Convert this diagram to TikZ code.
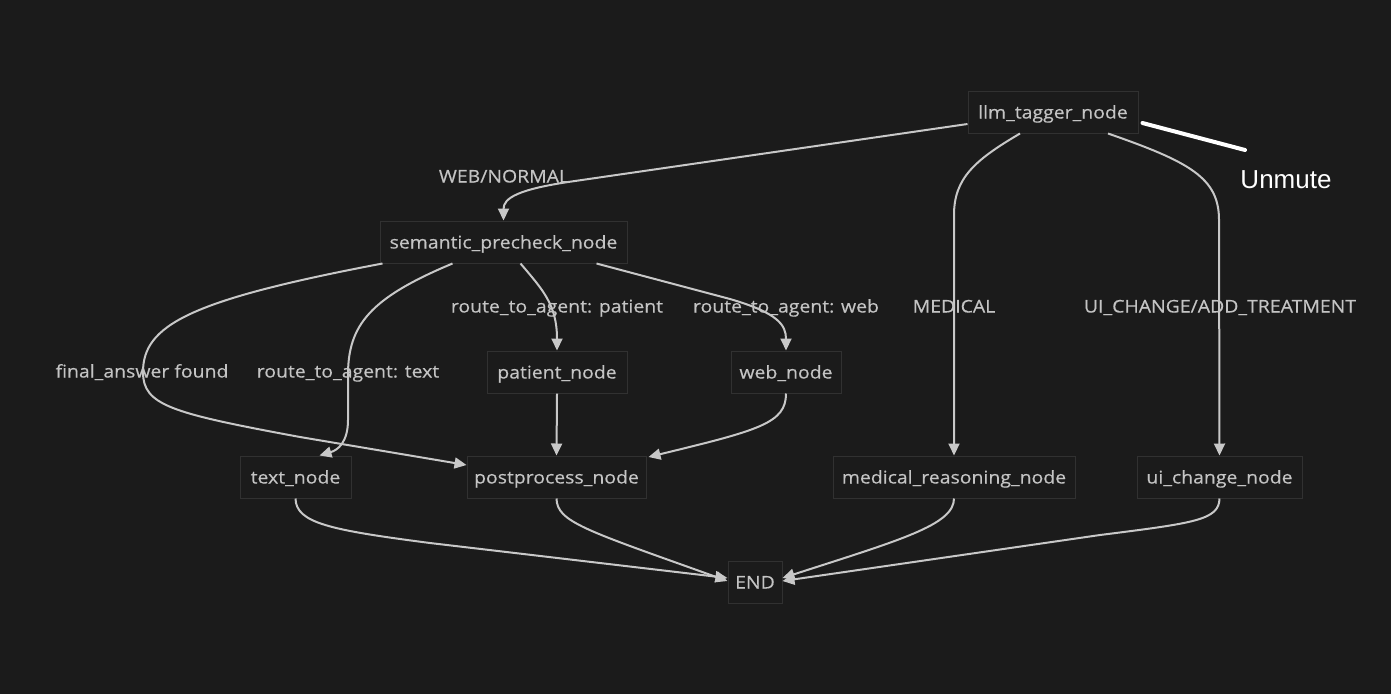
\documentclass[tikz,border=0pt]{standalone}
\usepackage{fontspec}
\setmainfont{Open Sans}[FakeStretch=1.11, FakeBold=0.4]
\newfontfamily\unmutefont{Liberation Sans}
\usetikzlibrary{arrows.meta,calc}
\definecolor{bgc}{HTML}{1B1B1B}
\definecolor{boxc}{HTML}{313131}
\definecolor{txtc}{HTML}{C4C4C4}
\definecolor{edgec}{HTML}{C8C8C8}
\tikzset{
  box/.style={draw=boxc, line width=1pt, fill=bgc, text=txtc, minimum height=42pt, inner xsep=5pt, text height=13pt, text depth=0pt, font=\fontsize{17.5}{20}\selectfont},
  edge/.style={draw=edgec, line width=2pt, -{Triangle[length=12pt,width=11pt]}},
  lbl/.style={text=txtc, font=\fontsize{17.5}{20}\selectfont, inner sep=1pt, text height=13pt, text depth=0pt}
}
\begin{document}
\begin{tikzpicture}[x=1pt,y=-1pt]
\fill[bgc] (0,0) rectangle (1391,694);
\useasboundingbox (0,0) rectangle (1391,694);

\node[box, minimum width=170pt] (llm) at (1053,112) {llm\_tagger\_node};
\node[box, minimum width=247pt] (sem) at (503.5,242) {semantic\_precheck\_node};
\node[box, minimum width=140pt] (pat) at (557,372) {patient\_node};
\node[box, minimum width=110pt] (web) at (786,372) {web\_node};
\node[box, minimum width=111pt] (txt) at (295.5,477) {text\_node};
\node[box, minimum width=179pt] (post) at (556.5,477) {postprocess\_node};
\node[box, minimum width=242pt] (med) at (954,477) {medical\_reasoning\_node};
\node[box, minimum width=165pt] (ui) at (1219.5,477) {ui\_change\_node};
\node[box, minimum width=54pt] (end) at (755,582) {END};

% llm edges
\draw[edge] ($(llm.west)+(0,12)$) -- (575,181) .. controls (518,189) and (503.5,198) .. (sem.north);
\draw[edge] ($(llm.south)+(-33,0)$) .. controls (975,160) and (954,178) .. (954,215) -- (med.north);
\draw[edge] ($(llm.south)+(55,0)$) .. controls (1190,162) and (1219,178) .. (1219,220) -- (ui.north);

% semantic edges
\draw[edge] ($(sem.south west)+(3,0)$) .. controls (190,300) and (143,325) .. (143,372) .. controls (143,405) and (170,413) .. (300,437) -- ($(post.west)+(0,-12)$);
\draw[edge] ($(sem.south west)+(73,0)$) .. controls (370,298) and (348,325) .. (348,375) -- (348,420) .. controls (348,442) and (338,450) .. ($(txt.north)+(24,0)$);
\draw[edge] ($(sem.south)+(17,0)$) .. controls (543,290) and (557,305) .. (pat.north);
\draw[edge] ($(sem.south)+(93,0)$) -- (730,299) .. controls (778,313) and (786,325) .. (web.north);

% to postprocess
\draw[edge] (pat.south) -- (post.north);
\draw[edge] (web.south) .. controls (786,423) and (760,430) .. ($(post.east)+(2,-20)$);

% to END
\draw[edge] (txt.south) .. controls (296,523) and (330,530) .. (430,543) -- ($(end.west)+(0,-4)$);
\draw[edge] (post.south) .. controls (557,522) and (585,530) .. ($(end.west)+(0,-1)$);
\draw[edge] (med.south) .. controls (954,525) and (900,540) .. ($(end.east)+(0,-4)$);
\draw[edge] (ui.south) .. controls (1219,520) and (1195,523) .. (1100,535) -- ($(end.east)+(0,-1)$);

% labels
\node[lbl] (l1) at (504,176) {WEB/NORMAL};
\node[lbl] (l2) at (954,306) {MEDICAL};
\node[lbl] (l3) at (1220,306) {UI\_CHANGE/ADD\_TREATMENT};
\node[lbl] (l4) at (142,371) {final\_answer found};
\node[lbl] (l5) at (348,371) {route\_to\_agent: text};
\node[lbl] (l6) at (557,306) {route\_to\_agent: patient};
\node[lbl] (l7) at (786,306) {route\_to\_agent: web};

% Unmute annotation
\node[text=white, font=\unmutefont\fontsize{26}{30}\selectfont, inner sep=0pt] (unm) at (1286,180) {Unmute};
\draw[white, line width=4pt, line cap=round] ($(llm.east)+(4,11)$) -- (1245,150);
\end{tikzpicture}
\end{document}
